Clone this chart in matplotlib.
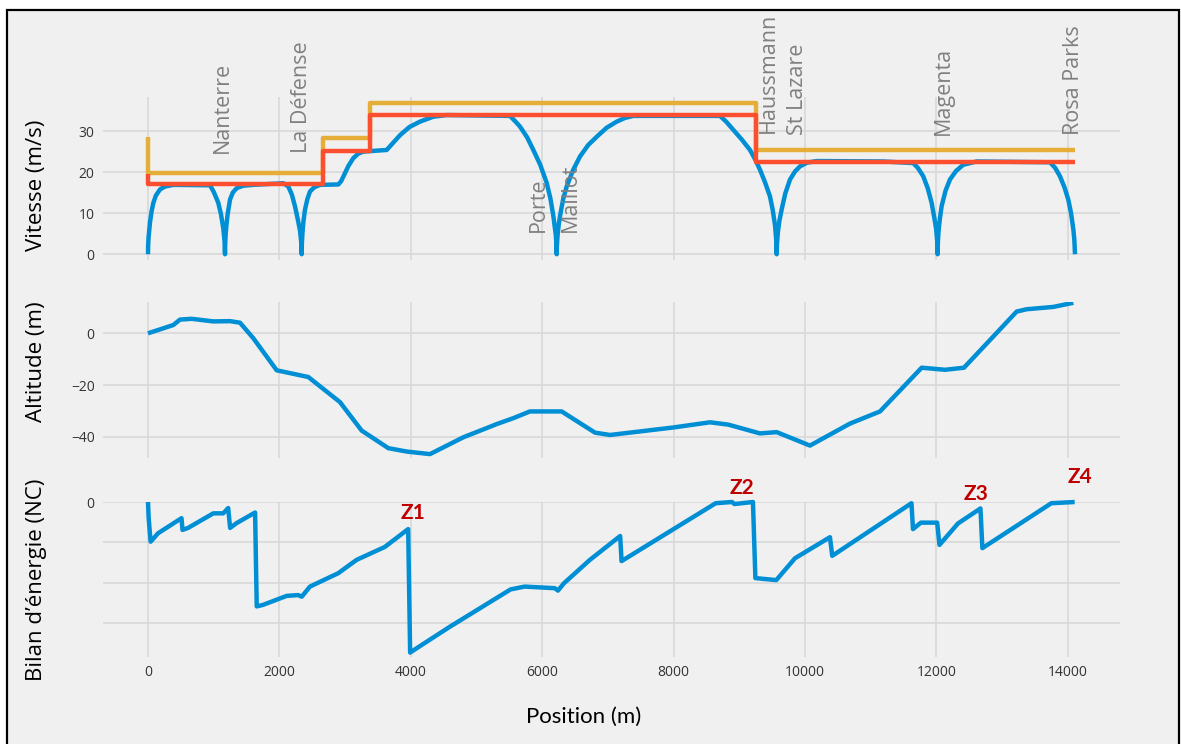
import numpy as np
import matplotlib
matplotlib.use("Agg")
import matplotlib.pyplot as plt
from matplotlib.patches import Rectangle

# --- data ---
pos_v = [0, 2, 8, 30, 55, 81, 120, 183, 260, 385,
         944, 1000, 1040, 1070, 1110, 1147, 1166, 1172,
         1175, 1182, 1192, 1210, 1248, 1290, 1350, 1450, 1603,
         2060, 2136, 2190, 2237, 2280, 2314, 2333, 2339,
         2342, 2352, 2368, 2390, 2425, 2466, 2530, 2618, 2897,
         2940, 2973, 3050, 3125, 3200, 3278, 3633,
         3700, 3836, 3980, 4140, 4343, 4546, 5510,
         5600, 5662, 5770, 5865, 5970, 6068, 6125, 6170, 6208, 6218, 6221,
         6224, 6234, 6250, 6271, 6320, 6373, 6470, 6575, 6700, 6829, 6980, 7134, 7260, 7387, 8706,
         8800, 8909, 9040, 9163, 9245, 9315, 9390, 9467, 9510, 9544, 9563, 9569,
         9574, 9588, 9610, 9645, 9700, 9772, 9850, 9924, 10030, 10178, 11192, 11648,
         11720, 11800, 11870, 11928, 11965, 11996, 12013, 12019,
         12023, 12034, 12052, 12080, 12140, 12207, 12300, 12410, 12613, 13729,
         13810, 13881, 13950, 14008, 14050, 14085, 14100, 14110]
vitesse = [0, 2.0, 4.0, 7.7, 10.5, 12.5, 14.3, 15.8, 16.5, 16.9,
           16.8, 15.2, 13.7, 12.5, 9.8, 6.2, 3.0, 0,
           2.6, 4.8, 6.8, 9.5, 13.3, 15.0, 16.1, 16.7, 16.9,
           17.3, 16.5, 14.5, 11.7, 8.5, 5.7, 2.8, 0,
           2.6, 5.4, 8.3, 10.9, 13.4, 15.3, 16.3, 16.9, 17.0,
           17.8, 18.9, 21.5, 23.4, 24.5, 25.0, 25.4,
           26.6, 29.0, 31.0, 32.3, 33.5, 33.9, 33.7,
           32.2, 31.1, 28.5, 25.4, 21.8, 17.4, 13.6, 9.3, 4.6, 2.2, 0,
           2.2, 4.6, 7.0, 9.3, 13.5, 16.5, 20.5, 23.8, 26.6, 28.6, 30.8, 32.3, 33.2, 33.7, 33.7,
           32.3, 30.3, 27.9, 25.4, 23.0, 20.6, 17.6, 14.1, 10.7, 7.0, 3.4, 0,
           2.6, 5.4, 8.1, 10.9, 14.8, 18.2, 20.2, 21.4, 22.3, 22.7, 22.6, 22.2,
           21.0, 19.0, 16.0, 12.5, 9.2, 6.2, 3.1, 0,
           2.9, 5.8, 8.5, 11.7, 15.5, 18.2, 20.3, 21.8, 22.6, 22.4,
           21.0, 19.0, 16.3, 13.3, 10.0, 6.0, 3.5, 0]

pos_lim = [0, 0, 2659, 2659, 3379, 3379, 9255, 9255, 14110]
lim_max = [28.6, 19.85, 19.85, 28.4, 28.4, 36.9, 36.9, 25.5, 25.5]
lim_reg = [19.6, 17.0, 17.0, 25.2, 25.2, 33.9, 33.9, 22.5, 22.5]

stations = ["Nanterre", "La Défense", "Porte", "Maillot", "Haussmann", "St Lazare", "Magenta", "Rosa Parks"]
station_x = [1126, 2344, 5936, 6423, 9437, 9893, 12100, 14080]
station_y = [24.7, 24.7, 5.5, 5.5, 29.5, 29.0, 29.0, 29.0]

pos_alt = [0, 385, 487, 665, 994, 1248, 1400, 1603, 1959, 2440, 2922, 3252, 3658, 3937, 4292,
           4799, 5307, 5560, 5814, 6296, 6804, 7032, 7996, 8554, 8833, 9315, 9569, 10076,
           10685, 11142, 11776, 12131, 12420, 12816, 13222, 13374, 13780, 14085]
altitude = [0, 3.2, 5.3, 5.6, 4.6, 4.7, 4.1, -1.9, -14.3, -16.9, -26.6, -37.6, -44.4, -45.7, -46.7,
            -40.2, -35.1, -32.8, -30.2, -30.2, -38.4, -39.3, -36.4, -34.4, -35.3, -38.7, -38.2, -43.4,
            -34.9, -30.2, -13.3, -14.1, -13.3, -2.6, 8.4, 9.3, 10.2, 11.8]

pos_e = [0, 10, 40, 155, 510, 525, 610, 995, 1145, 1220, 1250, 1350, 1630, 1655, 1755, 2110,
         2285, 2340, 2465, 2895, 3175, 3605, 3960, 3990, 4140, 4597, 5519, 5732, 6193, 6240,
         6330, 6726, 7187, 7208, 8641, 8889, 8925, 9208, 9245, 9563, 9848, 10380, 10415,
         11621, 11644, 11764, 12012, 12047, 12329, 12671, 12700, 13750, 14105]
energie = [0, -0.4, -0.98, -0.77, -0.4, -0.69, -0.64, -0.28, -0.28, -0.15, -0.64, -0.52, -0.26,
           -2.58, -2.54, -2.32, -2.30, -2.34, -2.09, -1.76, -1.43, -1.11, -0.67, -3.72, -3.56,
           -3.08, -2.16, -2.09, -2.13, -2.19, -2.01, -1.43, -0.84, -1.46, -0.03, 0, -0.05, 0,
           -1.88, -1.93, -1.39, -0.87, -1.33, -0.03, -0.67, -0.51, -0.51, -1.06, -0.53, -0.16,
           -1.14, -0.03, 0]

zones = ["Z1", "Z2", "Z3", "Z4"]
zone_x = [4030, 9040, 12600, 14190]
zone_y = [-0.27, 0.35, 0.2, 0.62]

BLUE = "#008fd5"
RED = "#fc4f30"
YELLOW = "#e5ae38"
BG = "#f0f0f0"

plt.style.use("fivethirtyeight")
plt.rcParams["font.family"] = ["Open Sans", "DejaVu Sans"]

fig = plt.figure(figsize=(11.81, 7.44), dpi=100)
fig.patch.set_facecolor("white")
fig.patches.append(Rectangle((7 / 1181, -0.02), 1172 / 1181, 1 - 10 / 744 + 0.02,
                             transform=fig.transFigure, facecolor=BG, edgecolor="black",
                             linewidth=1.6, zorder=-10))

left, width = 103 / 1181, 1017 / 1181
ax1 = fig.add_axes([left, 1 - 260 / 744, width, 163 / 744])
ax2 = fig.add_axes([left, 1 - 458 / 744, width, 156 / 744], sharex=ax1)
ax3 = fig.add_axes([left, 1 - 657 / 744, width, 155 / 744], sharex=ax1)

for ax in (ax1, ax2, ax3):
    ax.set_facecolor(BG)
    ax.grid(True, color="#d8d8d8", linewidth=1.2)
    ax.tick_params(length=0, labelsize=10, labelcolor="#333333", pad=6)
    for s in ax.spines.values():
        s.set_visible(False)

lw = 3.2
ax1.plot(pos_v, vitesse, color=BLUE, lw=lw, zorder=3)
ax1.plot(pos_lim, lim_max, color=YELLOW, lw=lw, zorder=4)
ax1.plot(pos_lim, lim_reg, color=RED, lw=lw, zorder=5)
for name, x, y in zip(stations, station_x, station_y):
    ax1.text(x, y, name, rotation=90, ha="center", va="bottom", color="#808080",
             fontsize=15.5, clip_on=False, zorder=6)
ax1.set_ylim(-1.4, 38.3)
ax1.set_yticks([0, 10, 20, 30])
ax1.set_ylabel("Vitesse (m/s)", fontsize=16, color="black")
ax1.yaxis.set_label_coords(-0.055, 0.46)
plt.setp(ax1.get_xticklabels(), visible=False)

ax2.plot(pos_alt, altitude, color=BLUE, lw=lw)
ax2.set_ylim(-48.2, 12.1)
ax2.set_yticks([-40, -20, 0])
ax2.set_yticklabels(["\u221240", "\u221220", "0"])
ax2.set_ylabel("Altitude (m)", fontsize=16, color="black")
ax2.yaxis.set_label_coords(-0.055, 0.62)
plt.setp(ax2.get_xticklabels(), visible=False)

ax3.plot(pos_e, energie, color=BLUE, lw=lw, clip_on=False)
for z, x, y in zip(zones, zone_x, zone_y):
    ax3.text(x, y, z, color="#c00000", fontsize=15, fontweight="bold", family="Lato",
             ha="center", va="center", clip_on=False)
ax3.set_ylim(-3.83, 0)
ax3.set_yticks([-3, -2, -1, 0])
ax3.set_yticklabels(["", "", "", "0"])
ax3.set_ylabel("Bilan d\u2019énergie (NC)", fontsize=16, color="black")
ax3.yaxis.set_label_coords(-0.055, 0.5)

ax1.set_xlim(-685, 14795)
ax3.set_xticks(np.arange(0, 14001, 2000))

fig.text(584 / 1181, 1 - 717 / 744, "Position (m)", family="Lato", fontsize=16,
         ha="center", va="center", color="black")

fig.savefig("out.png", dpi=100, facecolor=fig.get_facecolor())
